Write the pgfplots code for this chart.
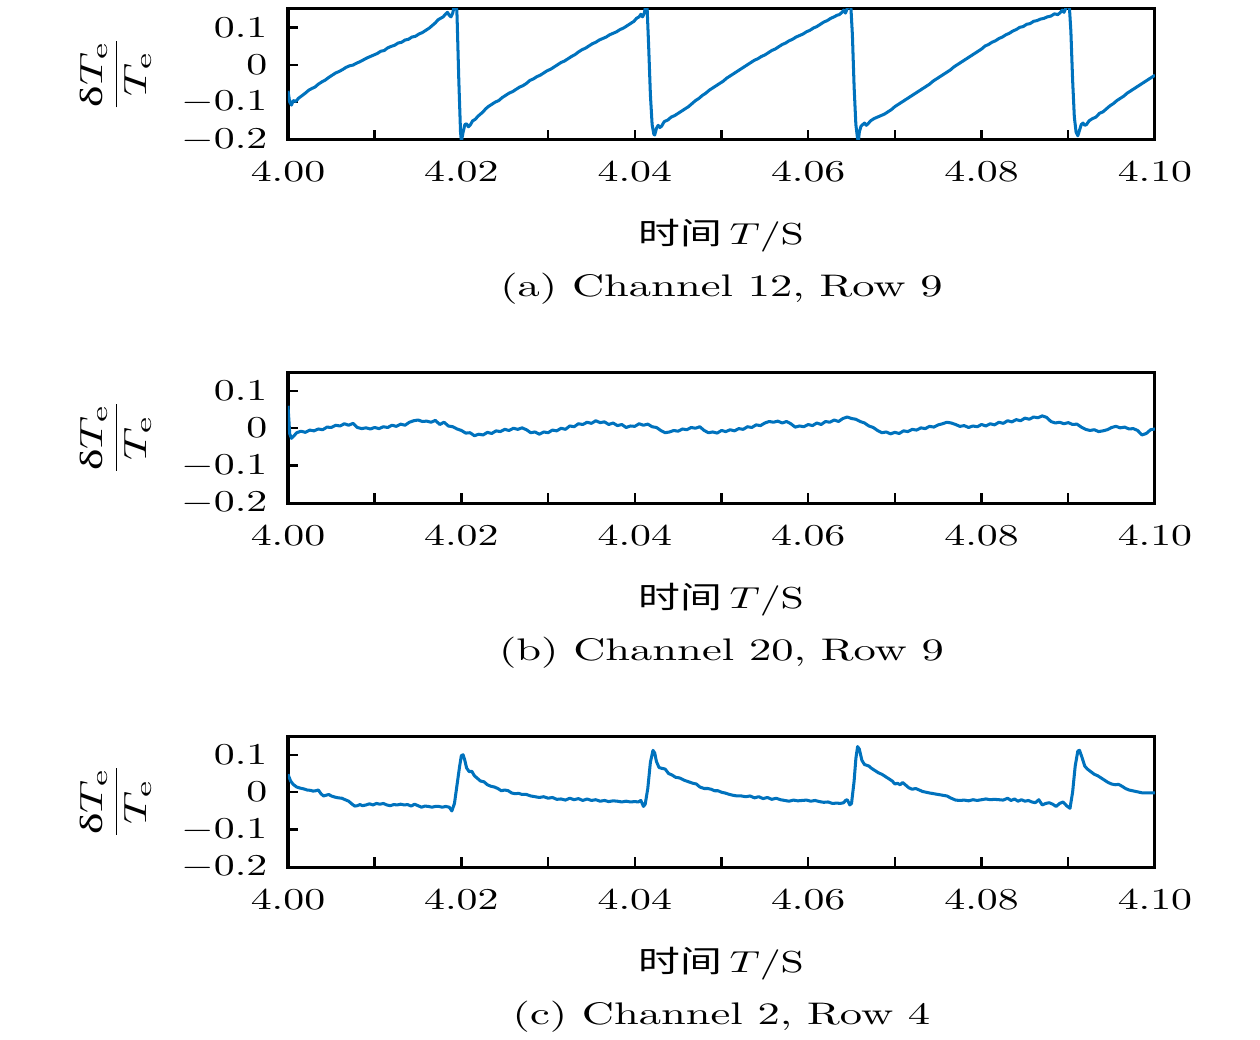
\documentclass[border=0pt]{standalone}
\usepackage{fontspec}
\usepackage{graphicx}
\usepackage{pgfplots}
\pgfplotsset{compat=1.18}
\newfontfamily\cjk{Noto Sans CJK SC}
\newfontfamily\grk{Liberation Serif}
\definecolor{mblue}{RGB}{0,114,189}
\newcommand\sx[1]{\scalebox{1.38}[1]{#1}}
\newcommand\cx[1]{\scalebox{1.47}[1.03]{#1}}
\newcommand\ylab{\scalebox{1.5}[1.06]{$\displaystyle\frac{\mbox{\grk δ}T_{\mathrm{e}}}{T_{\mathrm{e}}}$}}
\newcommand\xlab{\sx{{\cjk 时间}\,$T/\mathrm{S}$}}
\pgfplotsset{panel/.style={
  scale only axis, width=286.1pt, height=43.2pt, anchor=south west,
  xmin=4, xmax=4.1, ymin=-0.2, ymax=0.15,
  xtick={4,4.02,4.04,4.06,4.08,4.1},
  xticklabels={\sx{$4.00$},\sx{$4.02$},\sx{$4.04$},\sx{$4.06$},\sx{$4.08$},\sx{$4.10$}},
  minor xtick={4.01,4.03,4.05,4.07,4.09},
  ytick={-0.2,-0.1,0,0.1},
  yticklabels={\sx{$-0.2$},\sx{$-0.1$},\sx{$0$},\sx{$0.1$}},
  xtick pos=bottom, ytick pos=left, tick align=inside,
  major tick length=3.3pt, minor tick length=3.3pt,
  tick style={black, line width=0.8pt},
  axis line style={line width=1pt},
  xticklabel style={anchor=base, yshift=-14pt},
  yticklabel style={xshift=-3.3pt},
}}
\begin{document}
\begin{tikzpicture}
\useasboundingbox (-95.04pt,-296.84pt) rectangle (320.76pt,46.04pt);
% ---------------- (a)
\begin{axis}[panel, at={(0pt,0pt)}]
\addplot[mblue, line width=1pt, line join=round] coordinates {
(4.0000,-0.070)(4.0002,-0.100)(4.0004,-0.108)(4.0006,-0.096)(4.0009,-0.098)(4.0012,-0.090)(4.0016,-0.083)(4.0020,-0.076)(4.0024,-0.068)(4.0028,-0.063)(4.0031,-0.060)(4.0035,-0.052)(4.0039,-0.046)(4.0043,-0.041)(4.0047,-0.034)(4.0051,-0.028)(4.0055,-0.022)(4.0059,-0.018)(4.0063,-0.013)(4.0067,-0.007)(4.0071,-0.003)(4.0075,-0.001)(4.0079,0.004)(4.0083,0.008)(4.0087,0.013)(4.0091,0.018)(4.0095,0.022)(4.0099,0.026)(4.0103,0.030)(4.0107,0.036)(4.0111,0.038)(4.0115,0.045)(4.0119,0.049)(4.0123,0.052)(4.0127,0.058)(4.0131,0.060)(4.0135,0.066)(4.0139,0.068)(4.0143,0.074)(4.0147,0.076)(4.0151,0.082)(4.0155,0.086)(4.0159,0.092)(4.0163,0.098)(4.0167,0.106)(4.0170,0.112)(4.0173,0.120)(4.0176,0.124)(4.0179,0.128)(4.0182,0.136)(4.0184,0.140)(4.0186,0.132)(4.0188,0.128)(4.0190,0.138)(4.0192,0.160)(4.0194,0.175)(4.0195,0.130)(4.0197,-0.040)(4.0199,-0.180)(4.0200,-0.205)(4.0202,-0.180)(4.0204,-0.160)(4.0206,-0.158)(4.0208,-0.166)(4.0210,-0.162)(4.0213,-0.150)
(4.0216,-0.146)(4.0219,-0.138)(4.0222,-0.132)(4.0225,-0.126)(4.0228,-0.118)(4.0231,-0.112)(4.0235,-0.106)(4.0239,-0.100)(4.0243,-0.096)(4.0247,-0.088)(4.0251,-0.082)(4.0255,-0.076)(4.0259,-0.072)(4.0263,-0.066)(4.0267,-0.060)(4.0271,-0.056)(4.0275,-0.050)(4.0279,-0.042)(4.0283,-0.038)(4.0287,-0.032)(4.0291,-0.028)(4.0295,-0.022)(4.0299,-0.016)(4.0303,-0.012)(4.0307,-0.006)(4.0311,0.000)(4.0315,0.006)(4.0319,0.010)(4.0323,0.016)(4.0327,0.022)(4.0331,0.027)(4.0335,0.034)(4.0339,0.040)(4.0343,0.044)(4.0347,0.050)(4.0351,0.056)(4.0355,0.060)(4.0359,0.066)(4.0363,0.070)(4.0367,0.074)(4.0371,0.080)(4.0375,0.084)(4.0379,0.088)(4.0383,0.094)(4.0387,0.098)(4.0391,0.104)(4.0395,0.110)(4.0399,0.116)(4.0402,0.124)(4.0405,0.128)(4.0407,0.135)(4.0409,0.128)(4.0411,0.138)(4.0412,0.150)(4.0413,0.170)(4.0414,0.165)(4.0416,0.050)(4.0418,-0.080)(4.0420,-0.160)(4.0422,-0.186)(4.0423,-0.188)(4.0425,-0.170)(4.0427,-0.162)(4.0429,-0.168)(4.0431,-0.164)
(4.0434,-0.152)(4.0438,-0.148)(4.0442,-0.140)(4.0446,-0.136)(4.0450,-0.130)(4.0454,-0.124)(4.0458,-0.118)(4.0462,-0.112)(4.0466,-0.104)(4.0470,-0.096)(4.0474,-0.090)(4.0478,-0.082)(4.0482,-0.076)(4.0486,-0.068)(4.0490,-0.062)(4.0494,-0.056)(4.0498,-0.050)(4.0502,-0.044)(4.0506,-0.036)(4.0510,-0.030)(4.0514,-0.024)(4.0518,-0.018)(4.0522,-0.012)(4.0526,-0.006)(4.0530,0.000)(4.0534,0.006)(4.0538,0.012)(4.0542,0.016)(4.0546,0.022)(4.0550,0.026)(4.0554,0.032)(4.0558,0.038)(4.0562,0.042)(4.0566,0.048)(4.0570,0.054)(4.0574,0.058)(4.0578,0.064)(4.0582,0.068)(4.0586,0.074)(4.0590,0.078)(4.0594,0.082)(4.0598,0.088)(4.0602,0.092)(4.0606,0.098)(4.0610,0.102)(4.0614,0.108)(4.0618,0.114)(4.0622,0.118)(4.0626,0.124)(4.0630,0.128)(4.0633,0.132)(4.0636,0.134)(4.0639,0.140)(4.0641,0.146)(4.0643,0.138)(4.0645,0.150)(4.0647,0.170)(4.0649,0.165)(4.0651,0.080)(4.0653,-0.060)(4.0655,-0.160)(4.0657,-0.198)(4.0658,-0.202)
(4.0659,-0.180)(4.0661,-0.164)(4.0663,-0.160)(4.0665,-0.156)(4.0667,-0.162)(4.0669,-0.158)(4.0672,-0.150)(4.0676,-0.144)(4.0680,-0.140)(4.0684,-0.136)(4.0688,-0.132)(4.0692,-0.126)(4.0696,-0.120)(4.0700,-0.112)(4.0704,-0.106)(4.0708,-0.100)(4.0712,-0.094)(4.0716,-0.088)(4.0720,-0.082)(4.0724,-0.076)(4.0728,-0.070)(4.0732,-0.064)(4.0736,-0.058)(4.0740,-0.052)(4.0744,-0.044)(4.0748,-0.038)(4.0752,-0.032)(4.0756,-0.026)(4.0760,-0.020)(4.0764,-0.014)(4.0768,-0.006)(4.0772,0.000)(4.0776,0.006)(4.0780,0.012)(4.0784,0.018)(4.0788,0.024)(4.0792,0.030)(4.0796,0.036)(4.0800,0.042)(4.0804,0.050)(4.0808,0.054)(4.0812,0.060)(4.0816,0.064)(4.0820,0.070)(4.0824,0.074)(4.0828,0.080)(4.0832,0.084)(4.0836,0.090)(4.0840,0.094)(4.0844,0.100)(4.0848,0.102)(4.0852,0.108)(4.0856,0.110)(4.0860,0.116)(4.0864,0.118)(4.0868,0.122)(4.0872,0.124)(4.0876,0.128)(4.0880,0.130)(4.0884,0.136)(4.0888,0.134)(4.0891,0.140)(4.0893,0.146)(4.0895,0.140)(4.0897,0.150)(4.0899,0.170)(4.0901,0.165)(4.0903,0.090)(4.0905,-0.040)(4.0907,-0.140)(4.0909,-0.180)(4.0911,-0.190)(4.0913,-0.175)(4.0915,-0.160)(4.0917,-0.156)(4.0919,-0.162)(4.0921,-0.160)
(4.0924,-0.150)(4.0928,-0.144)(4.0932,-0.140)(4.0936,-0.130)(4.0940,-0.126)(4.0944,-0.118)(4.0948,-0.110)(4.0952,-0.104)(4.0956,-0.096)(4.0960,-0.090)(4.0964,-0.084)(4.0968,-0.076)(4.0972,-0.070)(4.0976,-0.064)(4.0980,-0.058)(4.0984,-0.052)(4.0988,-0.046)(4.0992,-0.040)(4.0996,-0.034)(4.1000,-0.028)
};
\end{axis}
\node[rotate=90] at (-56.8pt,21.6pt) {\ylab};
\node[anchor=base] at (143.05pt,-34.8pt) {\xlab};
\node[anchor=base] at (143.05pt,-51.8pt) {\cx{(a) Channel 12, Row 9}};
% ---------------- (b)
\begin{axis}[panel, at={(0pt,-119.96pt)}]
\addplot[mblue, line width=1pt, line join=round] coordinates {
(4.0000,0.060)(4.0002,-0.015)(4.0004,-0.027)(4.0007,-0.020)(4.0010,-0.012)(4.0015,-0.008)(4.0020,-0.011)(4.0025,-0.005)(4.0030,-0.007)(4.0035,-0.002)(4.0040,-0.004)(4.0045,0.003)(4.0050,0.002)(4.0055,0.008)(4.0060,0.006)(4.0065,0.012)(4.0070,0.008)(4.0075,0.013)(4.0080,0.002)(4.0085,-0.001)(4.0090,0.001)(4.0095,-0.002)(4.0100,0.002)(4.0105,-0.001)(4.0110,0.004)(4.0115,0.002)(4.0120,0.008)(4.0125,0.005)(4.0130,0.011)(4.0135,0.008)(4.0140,0.016)(4.0145,0.020)(4.0150,0.022)(4.0155,0.018)(4.0160,0.019)(4.0165,0.016)(4.0170,0.021)(4.0175,0.010)(4.0180,0.016)(4.0185,0.006)(4.0190,0.004)(4.0195,-0.002)(4.0200,-0.006)(4.0205,-0.013)(4.0210,-0.012)(4.0215,-0.020)(4.0220,-0.016)(4.0225,-0.018)(4.0230,-0.011)(4.0235,-0.014)(4.0240,-0.007)(4.0245,-0.009)(4.0250,-0.003)(4.0255,-0.006)(4.0260,0.000)(4.0265,-0.003)(4.0270,0.001)(4.0275,-0.004)(4.0280,-0.012)(4.0285,-0.010)(4.0290,-0.016)(4.0295,-0.010)(4.0300,-0.012)(4.0305,-0.005)(4.0310,-0.007)(4.0315,0.000)(4.0320,-0.003)(4.0325,0.006)(4.0330,0.004)(4.0335,0.012)(4.0340,0.010)(4.0345,0.016)(4.0350,0.013)(4.0355,0.020)(4.0360,0.015)(4.0365,0.017)(4.0370,0.010)(4.0375,0.014)(4.0380,0.007)(4.0385,0.010)(4.0390,0.002)(4.0395,0.006)(4.0400,0.005)(4.0405,0.012)(4.0410,0.008)(4.0415,0.011)(4.0420,0.004)(4.0425,0.002)(4.0430,-0.006)(4.0435,-0.012)(4.0440,-0.010)(4.0445,-0.006)(4.0450,-0.008)(4.0455,-0.002)(4.0460,-0.004)(4.0465,0.002)(4.0470,0.000)(4.0475,0.004)(4.0480,-0.006)(4.0485,-0.012)(4.0490,-0.010)(4.0495,-0.013)(4.0500,-0.006)(4.0505,-0.009)(4.0510,-0.004)(4.0515,-0.007)(4.0520,-0.001)(4.0525,-0.003)(4.0530,0.004)(4.0535,0.002)(4.0540,0.009)(4.0545,0.007)(4.0550,0.014)(4.0555,0.018)(4.0560,0.016)(4.0565,0.019)(4.0570,0.014)(4.0575,0.018)(4.0580,0.012)(4.0585,0.003)(4.0590,0.006)(4.0595,0.004)(4.0600,0.010)(4.0605,0.007)(4.0610,0.014)(4.0615,0.010)(4.0620,0.018)(4.0625,0.016)(4.0630,0.022)(4.0635,0.018)(4.0640,0.026)(4.0645,0.030)(4.0650,0.026)(4.0655,0.024)(4.0660,0.018)(4.0665,0.014)(4.0670,0.006)(4.0675,0.002)(4.0680,-0.006)(4.0685,-0.012)(4.0690,-0.010)(4.0695,-0.015)(4.0700,-0.011)(4.0705,-0.014)(4.0710,-0.007)(4.0715,-0.009)(4.0720,-0.003)(4.0725,-0.005)(4.0730,0.001)(4.0735,-0.001)(4.0740,0.005)(4.0745,0.003)(4.0750,0.009)(4.0755,0.012)(4.0760,0.016)(4.0765,0.014)(4.0770,0.010)(4.0775,0.005)(4.0780,0.007)(4.0785,0.002)(4.0790,0.006)(4.0795,0.004)(4.0800,0.010)(4.0805,0.006)(4.0810,0.012)(4.0815,0.009)(4.0820,0.016)(4.0825,0.013)(4.0830,0.020)(4.0835,0.017)(4.0840,0.023)(4.0845,0.020)(4.0850,0.027)(4.0855,0.024)(4.0860,0.030)(4.0865,0.028)(4.0870,0.033)(4.0875,0.029)(4.0880,0.018)(4.0885,0.014)(4.0890,0.016)(4.0895,0.012)(4.0900,0.015)(4.0905,0.010)(4.0910,0.011)(4.0915,0.003)(4.0920,-0.003)(4.0925,-0.006)(4.0930,-0.004)(4.0935,-0.009)(4.0940,-0.007)(4.0945,-0.004)(4.0950,0.002)(4.0955,0.005)(4.0960,0.001)(4.0965,0.003)(4.0970,-0.002)(4.0975,-0.001)(4.0980,-0.006)(4.0985,-0.018)(4.0990,-0.014)(4.0995,-0.004)(4.1000,-0.002)
};
\end{axis}
\node[rotate=90] at (-56.8pt,-98.36pt) {\ylab};
\node[anchor=base] at (143.05pt,-154.76pt) {\xlab};
\node[anchor=base] at (143.05pt,-171.76pt) {\cx{(b) Channel 20, Row 9}};
% ---------------- (c)
\begin{axis}[panel, at={(0pt,-240.08pt)}]
\addplot[mblue, line width=1pt, line join=round] coordinates {
(4.0000,0.048)(4.0003,0.030)(4.0006,0.021)(4.0010,0.014)(4.0014,0.011)(4.0018,0.009)(4.0022,0.006)(4.0026,0.005)(4.0029,0.003)(4.0032,0.004)(4.0035,0.006)(4.0038,-0.004)(4.0041,-0.010)(4.0044,-0.008)(4.0047,-0.006)(4.0050,-0.010)(4.0054,-0.013)(4.0058,-0.015)(4.0062,-0.016)(4.0066,-0.020)(4.0070,-0.024)(4.0074,-0.032)(4.0077,-0.037)(4.0080,-0.036)(4.0083,-0.033)(4.0086,-0.036)(4.0090,-0.034)(4.0094,-0.031)(4.0098,-0.034)(4.0102,-0.030)(4.0106,-0.032)(4.0110,-0.030)(4.0114,-0.034)(4.0118,-0.036)(4.0122,-0.033)(4.0126,-0.034)(4.0130,-0.032)(4.0134,-0.034)(4.0138,-0.033)(4.0142,-0.037)(4.0146,-0.032)(4.0150,-0.036)(4.0154,-0.040)(4.0158,-0.037)(4.0162,-0.038)(4.0166,-0.040)(4.0170,-0.038)(4.0174,-0.038)(4.0178,-0.040)(4.0182,-0.038)(4.0186,-0.040)(4.0189,-0.050)(4.0192,-0.030)(4.0195,0.020)(4.0198,0.070)(4.0200,0.098)(4.0202,0.100)(4.0204,0.085)(4.0206,0.065)(4.0209,0.055)(4.0212,0.056)(4.0215,0.044)(4.0218,0.038)(4.0222,0.030)(4.0226,0.028)(4.0230,0.020)(4.0234,0.016)(4.0238,0.014)(4.0242,0.010)(4.0246,0.004)(4.0250,0.006)(4.0254,0.004)(4.0258,-0.002)(4.0262,-0.004)(4.0266,-0.003)(4.0270,-0.006)(4.0275,-0.006)(4.0280,-0.010)(4.0285,-0.012)(4.0290,-0.014)(4.0295,-0.012)(4.0300,-0.016)(4.0305,-0.014)(4.0310,-0.019)(4.0315,-0.018)(4.0320,-0.021)(4.0325,-0.016)(4.0330,-0.020)(4.0335,-0.017)(4.0340,-0.022)(4.0345,-0.018)(4.0350,-0.022)(4.0355,-0.020)(4.0360,-0.024)(4.0365,-0.022)(4.0370,-0.025)(4.0375,-0.023)(4.0380,-0.024)(4.0385,-0.026)(4.0390,-0.024)(4.0395,-0.026)(4.0400,-0.025)(4.0404,-0.026)(4.0407,-0.022)(4.0410,-0.038)(4.0412,-0.032)(4.0415,0.010)(4.0418,0.080)(4.0421,0.112)(4.0423,0.105)(4.0425,0.082)(4.0428,0.066)(4.0431,0.064)(4.0435,0.062)(4.0439,0.050)(4.0443,0.046)(4.0447,0.040)(4.0452,0.038)(4.0457,0.032)(4.0462,0.028)(4.0467,0.024)(4.0471,0.022)(4.0475,0.014)(4.0480,0.010)(4.0484,0.010)(4.0488,0.008)(4.0492,0.004)(4.0496,0.004)(4.0500,0.000)(4.0504,-0.002)(4.0508,-0.005)(4.0513,-0.008)(4.0518,-0.010)(4.0523,-0.010)(4.0528,-0.012)(4.0533,-0.010)(4.0538,-0.015)(4.0543,-0.012)(4.0548,-0.017)(4.0553,-0.014)(4.0558,-0.019)(4.0563,-0.016)(4.0568,-0.020)(4.0573,-0.022)(4.0578,-0.024)(4.0583,-0.021)(4.0588,-0.023)(4.0593,-0.022)(4.0598,-0.021)(4.0603,-0.024)(4.0608,-0.022)(4.0613,-0.025)(4.0618,-0.027)(4.0623,-0.026)(4.0628,-0.030)(4.0633,-0.029)(4.0637,-0.030)(4.0641,-0.028)(4.0643,-0.022)(4.0645,-0.020)(4.0648,-0.034)(4.0650,-0.030)(4.0653,0.030)(4.0655,0.090)(4.0657,0.122)(4.0659,0.115)(4.0662,0.085)(4.0665,0.074)(4.0670,0.070)(4.0673,0.064)(4.0677,0.058)(4.0681,0.052)(4.0685,0.048)(4.0689,0.042)(4.0693,0.036)(4.0697,0.030)(4.0700,0.022)(4.0703,0.024)(4.0706,0.020)(4.0709,0.026)(4.0712,0.020)(4.0716,0.012)(4.0720,0.008)(4.0724,0.010)(4.0728,0.006)(4.0732,0.002)(4.0736,0.000)(4.0740,-0.002)(4.0745,-0.004)(4.0750,-0.006)(4.0755,-0.008)(4.0760,-0.010)(4.0765,-0.016)(4.0770,-0.021)(4.0775,-0.022)(4.0780,-0.021)(4.0785,-0.023)(4.0790,-0.020)(4.0795,-0.022)(4.0800,-0.020)(4.0805,-0.018)(4.0810,-0.020)(4.0815,-0.019)(4.0820,-0.020)(4.0825,-0.021)(4.0830,-0.016)(4.0834,-0.022)(4.0838,-0.018)(4.0842,-0.024)(4.0846,-0.020)(4.0850,-0.024)(4.0854,-0.022)(4.0858,-0.026)(4.0862,-0.028)(4.0866,-0.020)(4.0870,-0.034)(4.0874,-0.030)(4.0878,-0.028)(4.0882,-0.032)(4.0886,-0.038)(4.0890,-0.030)(4.0894,-0.026)(4.0898,-0.036)(4.0902,-0.043)(4.0905,0.000)(4.0908,0.070)(4.0911,0.110)(4.0913,0.112)(4.0916,0.092)(4.0919,0.070)(4.0922,0.062)(4.0926,0.055)(4.0930,0.048)(4.0934,0.044)(4.0938,0.038)(4.0942,0.032)(4.0946,0.026)(4.0950,0.022)(4.0954,0.020)(4.0958,0.021)(4.0962,0.016)(4.0966,0.010)(4.0970,0.006)(4.0974,0.004)(4.0978,0.002)(4.0982,0.000)(4.0986,-0.002)(4.0990,-0.002)(4.0995,-0.002)(4.1000,-0.002)
};
\end{axis}
\node[rotate=90] at (-56.8pt,-218.48pt) {\ylab};
\node[anchor=base] at (143.05pt,-274.88pt) {\xlab};
\node[anchor=base] at (143.05pt,-291.88pt) {\cx{(c) Channel 2, Row 4}};
\end{tikzpicture}
\end{document}
